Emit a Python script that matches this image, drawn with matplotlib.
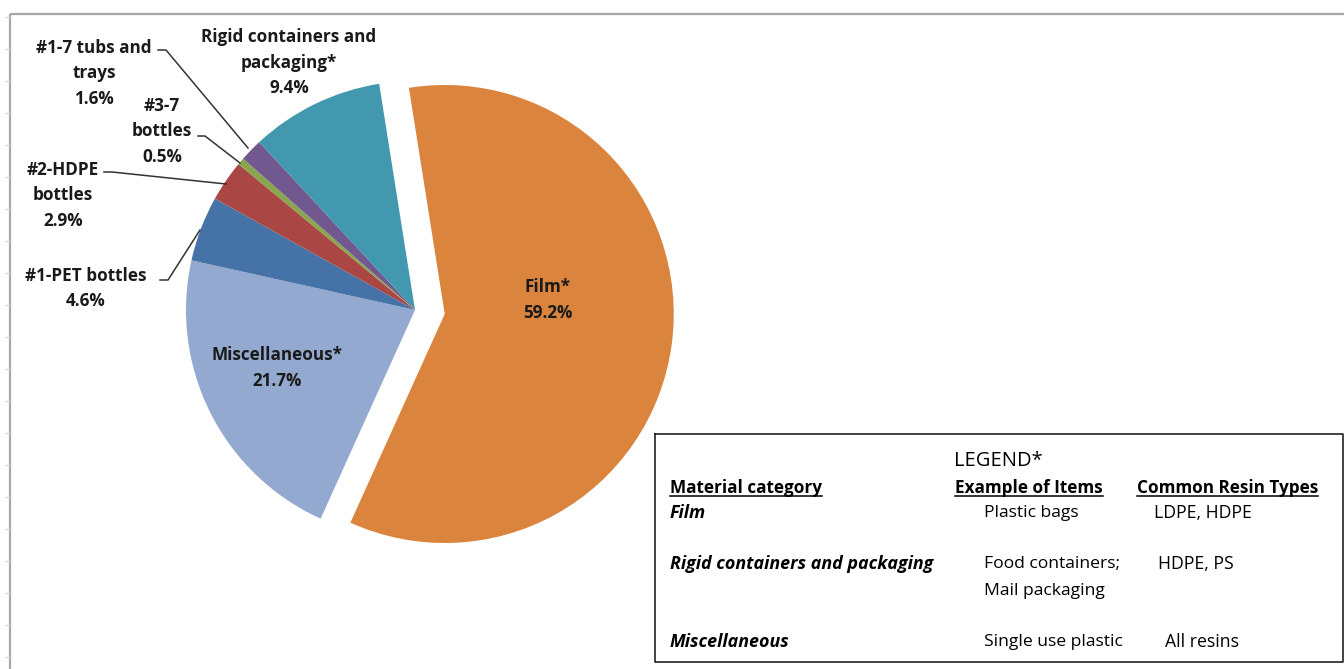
import matplotlib
matplotlib.use("Agg")
import matplotlib.pyplot as plt

# Plastic waste composition (share of total, %)
categories = ["Film*", "Miscellaneous*", "#1-PET bottles", "#2-HDPE\nbottles",
              "#3-7\nbottles", "#1-7 tubs and\ntrays", "Rigid containers and\npackaging*"]
shares = [59.2, 21.7, 4.6, 2.9, 0.5, 1.6, 9.4]
colors = ["#DB843D", "#93A9CF", "#4572A7", "#AA4643", "#89A54E", "#71588F", "#4198AF"]

legend_header = ["Material category", "Example of Items", "Common Resin Types"]
legend_material = ["Film", "Rigid containers and packaging", "Miscellaneous"]
legend_examples = ["Plastic bags", "Food containers;\nMail packaging", "Single use plastic"]
legend_resins = ["LDPE, HDPE", "HDPE, PS", "All resins"]

W, H = 1344, 669
FONT = "Open Sans"
LINE = 25.5  # px between text lines
DY = 2       # nudge for vertical text centring

fig = plt.figure(figsize=(W / 100, H / 100), dpi=100)
ax = fig.add_axes([0, 0, 1, 1])


def Y(y):
    return H - y


def lines_at(x, y_first, text, **kw):
    """Draw a multi-line string one line at a time with fixed spacing."""
    out = []
    for i, s in enumerate(text.split("\n")):
        out.append(ax.text(x, Y(y_first + i * LINE + DY), s, va="center", **kw))
    return out


# pie
wedges, _ = ax.pie(shares, colors=colors, startangle=99, counterclock=False,
                   explode=[30, 0, 0, 0, 0, 0, 0], center=(415, Y(310)), radius=229,
                   wedgeprops=dict(linewidth=0))
ax.set_xlim(0, W)
ax.set_ylim(0, H)
ax.set_aspect("equal")
ax.axis("off")

# chart frame (top and left edges)
ax.plot([10, W], [Y(14), Y(14)], color="#A6A6A6", lw=1.6, solid_capstyle="butt")
ax.plot([10, 10], [Y(14), 0], color="#A6A6A6", lw=1.6, solid_capstyle="butt")
for yy in range(17, H, 32):
    ax.plot([6, 9], [Y(yy), Y(yy)], color="#D9D9D9", lw=1)

# data labels (x centre, y of first line)
label_pos = [(548, 285), (277, 353), (86, 274), (63, 168), (162, 104), (94, 46), (289, 35)]
for name, v, (lx, ly) in zip(categories, shares, label_pos):
    lines_at(lx, ly, f"{name}\n{v:.1f}%", ha="center", fontsize=12.3,
             fontweight="bold", family=FONT, color="#1a1a1a")

# leader lines
leaders = [
    [(158, 50), (166, 50), (248, 148)],
    [(198, 136), (205, 136), (240, 163)],
    [(104, 172), (112, 172), (226, 184)],
    [(160, 280), (168, 280), (200, 230)],
]
for pts in leaders:
    ax.plot([p[0] for p in pts], [Y(p[1]) for p in pts], color="#333333", lw=1.1)

# legend table
ax.plot([655, 1343, 1343, 655, 655], [Y(434), Y(434), Y(662), Y(662), Y(434)],
        color="#222222", lw=1.2)
ax.text(998, Y(459 + DY), "LEGEND*", ha="center", va="center", fontsize=14.5,
        family=FONT, color="black")

header_x = [670, 955, 1137]
header_texts = []
for hx, h in zip(header_x, legend_header):
    t = ax.text(hx, Y(486 + DY), h, ha="left", va="center", fontsize=12.3,
                fontweight="bold", family=FONT, color="black")
    header_texts.append(t)

row_y = [511, 562, 640]
for ry, m, e, r, rx in zip(row_y, legend_material, legend_examples, legend_resins,
                           [1154, 1158, 1165]):
    ax.text(670, Y(ry + DY), m, ha="left", va="center", fontsize=12.9,
            fontweight="bold", style="italic", family=FONT, color="black")
    for i, s in enumerate(e.split("\n")):
        ax.text(984, Y(ry + i * 27 + DY), s, ha="left", va="center", fontsize=12.6,
                family=FONT, color="black")
    ax.text(rx, Y(ry + DY), r, ha="left", va="center", fontsize=12.7, family=FONT,
            color="black")

# underline the header row
fig.canvas.draw()
inv = ax.transData.inverted()
for t in header_texts:
    bb = t.get_window_extent()
    (x0, _), (x1, _) = inv.transform([(bb.x0, bb.y0), (bb.x1, bb.y0)])
    ax.plot([x0, x1], [Y(496), Y(496)], color="black", lw=1.1)

fig.savefig("out.png", dpi=100)
